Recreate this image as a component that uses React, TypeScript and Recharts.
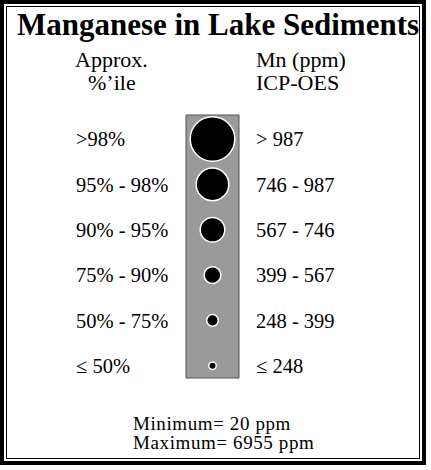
import { ScatterChart, Scatter, XAxis, YAxis, ReferenceArea } from 'recharts'

const title = 'Manganese in Lake Sediments'
const percentileHeader = ['Approx.', '%’ile']
const mnHeader = ['Mn (ppm)', 'ICP-OES']
const percentileClasses = ['>98%', '95% - 98%', '90% - 95%', '75% - 90%', '50% - 75%', '≤ 50%']
const mnClasses = ['> 987', '746 - 987', '567 - 746', '399 - 567', '248 - 399', '≤ 248']
const summary = ['Minimum= 20 ppm', 'Maximum= 6955 ppm']

// one dot per class, top row is the highest class
const rows = percentileClasses.map((_, i) => ({ col: 0.5, row: i }))
const rowTicks = rows.map((r) => r.row)

// dot radius per class (largest first)
const dotRadius = [22.3, 16.3, 12.3, 8.4, 5.8, 3.7]

const serif = "'Liberation Serif', 'Times New Roman', serif"

const tickStyle = { fill: '#000', fontSize: 20.5, fontFamily: serif }

export default function App() {
  return (
    <div style={{ position: 'absolute', left: 0, top: 0, background: '#fff' }}>
      <ScatterChart
        width={431}
        height={470}
        margin={{ top: 115, right: 0, bottom: 92, left: 0 }}
      >
        <XAxis type="number" dataKey="col" domain={[0, 1]} hide />
        <YAxis
          yAxisId="left"
          type="number"
          dataKey="row"
          domain={[-0.53, 5.27]}
          reversed
          allowDataOverflow
          ticks={rowTicks}
          interval={0}
          width={186}
          axisLine={false}
          tickLine={false}
          tickSize={0}
          tickMargin={110}
          tick={{ ...tickStyle, textAnchor: 'start' }}
          tickFormatter={(v: number) => percentileClasses[v]}
        />
        <YAxis
          yAxisId="right"
          orientation="right"
          type="number"
          domain={[-0.53, 5.27]}
          reversed
          allowDataOverflow
          ticks={rowTicks}
          interval={0}
          width={192}
          axisLine={false}
          tickLine={false}
          tickSize={0}
          tickMargin={17}
          tick={tickStyle}
          tickFormatter={(v: number) => mnClasses[v]}
        />
        <ReferenceArea
          yAxisId="left"
          x1={0}
          x2={1}
          fill="#9a9a9a"
          fillOpacity={1}
          stroke="#555"
          strokeWidth={1}
        />
        <Scatter
          yAxisId="left"
          data={rows}
          isAnimationActive={false}
          shape={(p: any) => (
            <circle
              cx={p.cx}
              cy={p.cy}
              r={dotRadius[p.payload.row]}
              fill="#000"
              stroke="#fff"
              strokeWidth={1.5}
            />
          )}
        />

        {/* double frame */}
        <rect x={2} y={2} width={422} height={461} fill="none" stroke="#000" strokeWidth={4} />
        <rect x={6.5} y={6.5} width={413} height={452} fill="none" stroke="#000" strokeWidth={1} />

        <text x={218} y={35} textAnchor="middle" fontFamily={serif} fontWeight="bold" fontSize={31} fill="#000">
          {title}
        </text>
        <text x={75} y={67} fontFamily={serif} fontSize={22} fill="#000">
          {percentileHeader[0]}
        </text>
        <text x={88} y={90} fontFamily={serif} fontSize={22} fill="#000">
          {percentileHeader[1]}
        </text>
        <text x={256} y={67} fontFamily={serif} fontSize={22} fill="#000">
          {mnHeader[0]}
        </text>
        <text x={256} y={90} fontFamily={serif} fontSize={22} fill="#000">
          {mnHeader[1]}
        </text>
        <text x={133} y={430} fontFamily={serif} fontSize={19} letterSpacing={0.6} fill="#000">
          {summary[0]}
        </text>
        <text x={133} y={449} fontFamily={serif} fontSize={19} letterSpacing={0.6} fill="#000">
          {summary[1]}
        </text>
      </ScatterChart>
    </div>
  )
}
